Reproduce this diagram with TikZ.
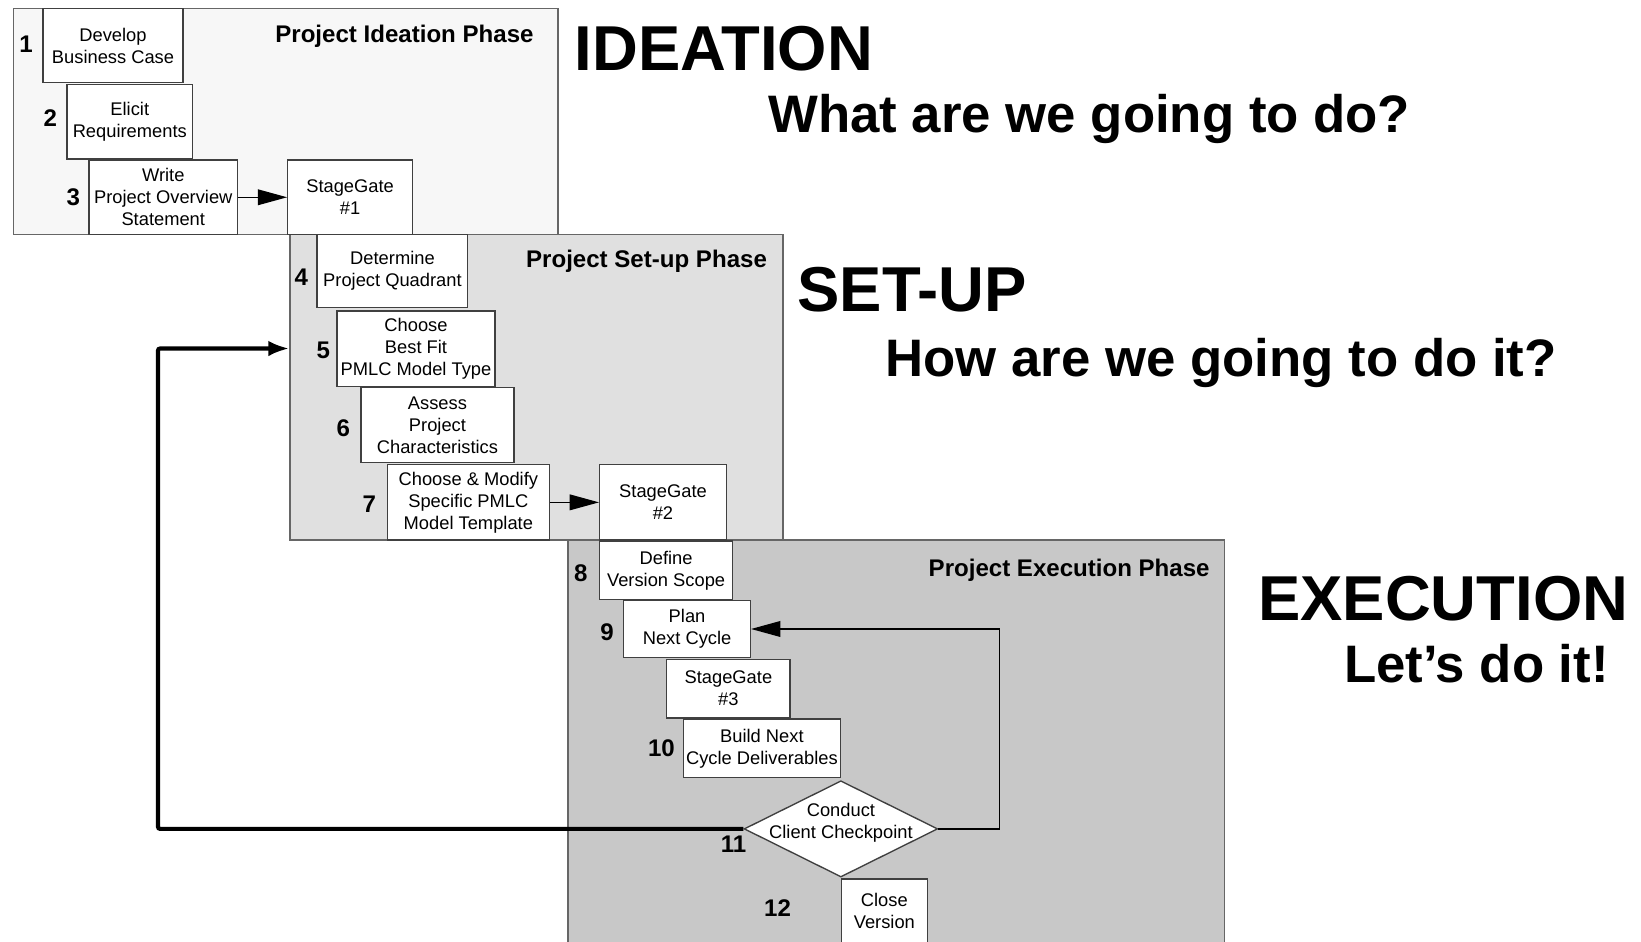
\documentclass[tikz,border=0pt]{standalone}
\usepackage{fontspec}
\setmainfont{Liberation Sans}
\usetikzlibrary{arrows.meta,shapes.geometric,calc}
\definecolor{ideafill}{HTML}{F7F7F7}
\definecolor{setupfill}{HTML}{E0E0E0}
\definecolor{execfill}{HTML}{C8C8C8}
\definecolor{edge}{HTML}{404040}
\begin{document}
\begin{tikzpicture}[x=1pt,y=-1pt,
  phase/.style={draw=edge!80, line width=1.3pt, inner sep=0pt, anchor=center},
  box/.style={draw=edge, fill=white, line width=1.3pt, inner sep=0pt, align=center,
    font=\fontsize{17.5}{21}\selectfont, anchor=center},
  num/.style={font=\fontsize{23}{23}\selectfont\bfseries, inner sep=0pt},
  ptitle/.style={font=\fontsize{23}{23}\selectfont\bfseries, inner sep=0pt, anchor=east},
  bigA/.style={font=\fontsize{60.6}{60}\selectfont\bfseries, inner sep=0pt, anchor=base west},
  bigB/.style={font=\fontsize{50.4}{50}\selectfont\bfseries, inner sep=0pt, anchor=base west},
  flow/.style={draw=black, line width=1.3pt, -{Triangle[length=28pt,width=15pt]}},
  back/.style={draw=black, line width=4pt, -{Latex[length=20pt,width=15pt]}, rounded corners=2pt}
]
\useasboundingbox (0,0) rectangle (1568,900);

% phase areas
\node[phase, fill=ideafill, minimum width=520pt, minimum height=216pt] (ideation) at (273,116) {};
\node[phase, fill=setupfill, minimum width=471pt, minimum height=292pt] (setup) at (512.5,370) {};
\node[inner sep=0pt, fill=execfill, minimum width=627pt, minimum height=384pt] (exec) at (856.5,708) {};
\draw[edge!80, line width=1.3pt] (exec.south west) -- (exec.north west) -- (exec.north east) -- (exec.south east);

% phase titles
\node[ptitle] (t1) at (510,35) {Project Ideation Phase};
\node[ptitle] (t2) at (733,250) {Project Set-up Phase};
\node[ptitle] (t3) at (1156,545) {Project Execution Phase};

% ideation steps
\node[box, minimum width=134pt, minimum height=71pt] (b1) at (108,43.5) {Develop\\Business Case};
\node[box, minimum width=120pt, minimum height=71pt] (b2) at (124,116.5) {Elicit\\Requirements};
\node[box, minimum width=142pt, minimum height=71pt] (b3) at (156,188.5) {Write\\Project Overview\\Statement};
\node[box, minimum width=119pt, minimum height=71pt] (sg1) at (334.5,188.5) {StageGate\\\#1};

% set-up steps
\node[box, minimum width=144pt, minimum height=70pt] (b4) at (375,259) {Determine\\Project Quadrant};
\node[box, minimum width=151pt, minimum height=72pt] (b5) at (397.5,333) {Choose\\Best Fit\\PMLC Model Type};
\node[box, minimum width=146pt, minimum height=72pt] (b6) at (418,406) {Assess\\Project\\Characteristics};
\node[box, minimum width=155pt, minimum height=72pt] (b7) at (447.5,480) {Choose \& Modify\\Specific PMLC\\Model Template};
\node[box, minimum width=121pt, minimum height=72pt] (sg2) at (633.5,480) {StageGate\\\#2};

% execution steps
\node[box, minimum width=127pt, minimum height=56pt] (b8) at (636.5,545) {Define\\Version Scope};
\node[box, minimum width=121pt, minimum height=54pt] (b9) at (656.5,601) {Plan\\Next Cycle};
\node[box, minimum width=118pt, minimum height=56pt] (sg3) at (696,658) {StageGate\\\#3};
\node[box, minimum width=150pt, minimum height=56pt] (b10) at (728,715) {Build Next\\Cycle Deliverables};
\node[diamond, draw=edge, fill=white, line width=1.3pt, inner sep=0pt, minimum width=185pt, minimum height=92pt] (d11) at (803.5,792) {};
\node[inner sep=0pt, align=center, font=\fontsize{17.5}{21}\selectfont] (d11t) at ($(d11.center)+(0,-6)$) {Conduct\\Client Checkpoint};
\node[fill=white, inner sep=0pt, align=center, minimum width=82pt, minimum height=60pt, font=\fontsize{17.5}{21}\selectfont] (b12) at (845,870) {Close\\Version};
\draw[edge, line width=1.3pt] (b12.south west) -- (b12.north west) -- (b12.north east) -- (b12.south east);

% step numbers
\node[num] (n1) at (25,42) {1};
\node[num] (n2) at (48,113) {2};
\node[num] (n3) at (70,188) {3};
\node[num] (n4) at (288,265) {4};
\node[num] (n5) at (309,335) {5};
\node[num] (n6) at (328,409) {6};
\node[num] (n7) at (353,482) {7};
\node[num] (n8) at (555,548) {8};
\node[num] (n9) at (580,604) {9};
\node[num] (n10) at (632,715) {10};
\node[num] (n11) at (701,807) {11};
\node[num] (n12) at (743,868) {12};

% connectors
\draw[flow] (b3.east) -- (sg1.west);
\draw[flow] (b7.east) -- (sg2.west);
\coordinate (loopc) at (955,601);
\draw[flow] (d11.east) -| (loopc) -- (b9.east);
\coordinate (backc) at (151,792);
\draw[back] (d11.west) -- (backc) |- (setup.west |- b5.west);

% big labels
\node[bigA] (L1) at (549,67) {IDEATION};
\node[bigB] (L2) at (734,127) {What are we going to do?};
\node[bigA] (L3) at (762,298) {SET-UP};
\node[bigB] (L4) at (846,360) {How are we going to do it?};
\node[bigA] (L5) at (1202,593) {EXECUTION};
\node[bigB] (L6) at (1284,652) {Let’s do it!};
\end{tikzpicture}
\end{document}
